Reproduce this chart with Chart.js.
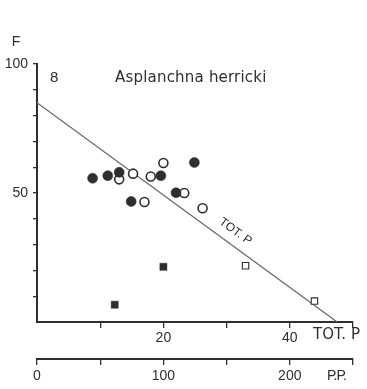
<!DOCTYPE html>
<html>
<head>
<meta charset="utf-8">
<script src="https://cdn.jsdelivr.net/npm/chart.js@4.4.1/dist/chart.umd.min.js"></script>
<style>
  html, body { margin: 0; padding: 0; background: #fff; }
  canvas { display: block; }
</style>
</head>
<body>
<canvas id="chart" width="367" height="389"></canvas>
<script>
// Asplanchna herricki: F against total phosphorus (TOT. P), with a P.P. scale below
const filledCircleX = [8.8, 11.2, 13.0, 14.9, 19.6, 22.0, 24.9];
const filledCircleY = [55.7, 56.7, 58.0, 46.7, 56.7, 50.1, 61.8];
const openCircleX = [13.0, 15.2, 17.0, 18.0, 20.0, 23.3, 26.2];
const openCircleY = [55.3, 57.5, 46.5, 56.4, 61.6, 50.0, 44.1];
const filledSquareX = [12.3, 20.0];
const filledSquareY = [6.7, 21.4];
const openSquareX = [33.0, 43.9];
const openSquareY = [21.8, 8.1];
const lineX = [0, 47.5];
const lineY = [85, 0];

const totPTickLabels = [20, 40];
const ppTickLabels = [0, 100, 200];
const fTickLabels = [50, 100];

const INK = '#2e2e2e';
const FONT = '"Liberation Sans", Arial, sans-serif';
const WIDE_FONT = '"DejaVu Sans", Verdana, sans-serif';

const pts = (xs, ys) => xs.map((x, i) => ({ x, y: ys[i] }));

const textPlugin = {
  id: 'annotations',
  afterDraw(chart) {
    const { ctx, scales } = chart;
    const x = scales.x, y = scales.y, x2 = scales.x2;
    ctx.save();
    ctx.fillStyle = INK;
    ctx.textBaseline = 'middle';

    // axis names
    ctx.font = '14px ' + FONT;
    ctx.textAlign = 'center';
    ctx.fillText('F', 16, y.top - 22);
    ctx.textAlign = 'left';
    ctx.font = '15px ' + WIDE_FONT;
    ctx.fillText('TOT. P', 313, x.top + 13);
    ctx.font = '14px ' + FONT;
    ctx.letterSpacing = '-1px';
    ctx.fillText('P.P.', 327, x2.top + 17);
    ctx.letterSpacing = '0px';

    // panel number and species
    ctx.font = '15px ' + FONT;
    ctx.fillText('8', 50, y.top + 14);
    ctx.font = '15px ' + WIDE_FONT;
    ctx.letterSpacing = '0.2px';
    ctx.fillText('Asplanchna herricki', 115, y.top + 14);
    ctx.letterSpacing = '0px';

    // label along the regression line
    const p0x = x.getPixelForValue(lineX[0]), p0y = y.getPixelForValue(lineY[0]);
    const p1x = x.getPixelForValue(lineX[1]), p1y = y.getPixelForValue(lineY[1]);
    const ang = Math.atan2(p1y - p0y, p1x - p0x);
    const t = 30.2 / lineX[1];
    const bx = p0x + (p1x - p0x) * t, by = p0y + (p1y - p0y) * t;
    const off = 13;
    ctx.translate(bx + Math.sin(ang) * off, by - Math.cos(ang) * off);
    ctx.rotate(ang);
    ctx.font = '12px ' + FONT;
    ctx.textAlign = 'center';
    ctx.fillText('TOT. P', 0, 0);
    ctx.restore();
  }
};

new Chart(document.getElementById('chart'), {
  type: 'scatter',
  data: {
    datasets: [
      {
        label: 'filled circles',
        data: pts(filledCircleX, filledCircleY),
        pointStyle: 'circle', pointRadius: 5, pointHoverRadius: 5,
        backgroundColor: INK, borderColor: INK, borderWidth: 0.5,
        order: 0
      },
      {
        label: 'open circles',
        data: pts(openCircleX, openCircleY),
        pointStyle: 'circle', pointRadius: 4.5, pointHoverRadius: 4.5,
        backgroundColor: '#fff', borderColor: INK, borderWidth: 1.6,
        order: 1
      },
      {
        label: 'filled squares',
        data: pts(filledSquareX, filledSquareY),
        pointStyle: 'rect', pointRadius: 5, pointHoverRadius: 5,
        backgroundColor: INK, borderColor: INK, borderWidth: 0.5,
        order: 2
      },
      {
        label: 'open squares',
        data: pts(openSquareX, openSquareY),
        pointStyle: 'rect', pointRadius: 4.5, pointHoverRadius: 4.5,
        backgroundColor: '#fff', borderColor: INK, borderWidth: 1.1,
        order: 3
      },
      {
        type: 'line',
        label: 'TOT. P',
        data: pts(lineX, lineY),
        borderColor: '#6a6a6a', borderWidth: 1.3,
        pointRadius: 0, fill: false, tension: 0,
        order: 4
      }
    ]
  },
  options: {
    responsive: false,
    animation: false,
    devicePixelRatio: 1,
    layout: { padding: { top: 64, right: 14, left: 0, bottom: 0 } },
    plugins: { legend: { display: false }, tooltip: { enabled: false } },
    scales: {
      x: {
        type: 'linear', position: 'bottom',
        min: 0, max: 50,
        border: { display: true, color: INK, width: 2 },
        grid: {
          drawOnChartArea: false, drawTicks: true, tickLength: 6, lineWidth: 1.3,
          color: c => (c.tick && c.tick.value === 0) ? 'rgba(0,0,0,0)' : INK
        },
        ticks: {
          stepSize: 10, autoSkip: false, maxRotation: 0, padding: 2,
          color: INK, font: { family: FONT, size: 14 },
          callback: v => totPTickLabels.includes(v) ? String(v) : ''
        },
        afterFit: s => { s.height = 37; }
      },
      x2: {
        type: 'linear', position: 'bottom',
        min: 0, max: 250,
        border: { display: true, color: INK, width: 2 },
        grid: {
          drawOnChartArea: false, drawTicks: true, tickLength: 6, lineWidth: 1.3,
          color: INK
        },
        ticks: {
          stepSize: 50, autoSkip: false, maxRotation: 0, padding: 3,
          color: INK, font: { family: FONT, size: 14 },
          callback: v => ppTickLabels.includes(v) ? String(v) : ''
        },
        afterFit: s => { s.height = 30; }
      },
      y: {
        type: 'linear', position: 'left',
        min: 0, max: 100,
        border: { display: true, color: INK, width: 2 },
        grid: {
          drawOnChartArea: false, drawTicks: true, tickLength: 4, lineWidth: 1.3,
          color: c => (c.tick && c.tick.value === 0) ? 'rgba(0,0,0,0)' : INK
        },
        ticks: {
          stepSize: 10, autoSkip: false, padding: 5,
          color: INK, font: { family: FONT, size: 14 },
          callback: v => fTickLabels.includes(v) ? String(v) : ''
        },
        afterFit: s => { s.width = 37; }
      }
    }
  },
  plugins: [textPlugin]
});
</script>
</body>
</html>
